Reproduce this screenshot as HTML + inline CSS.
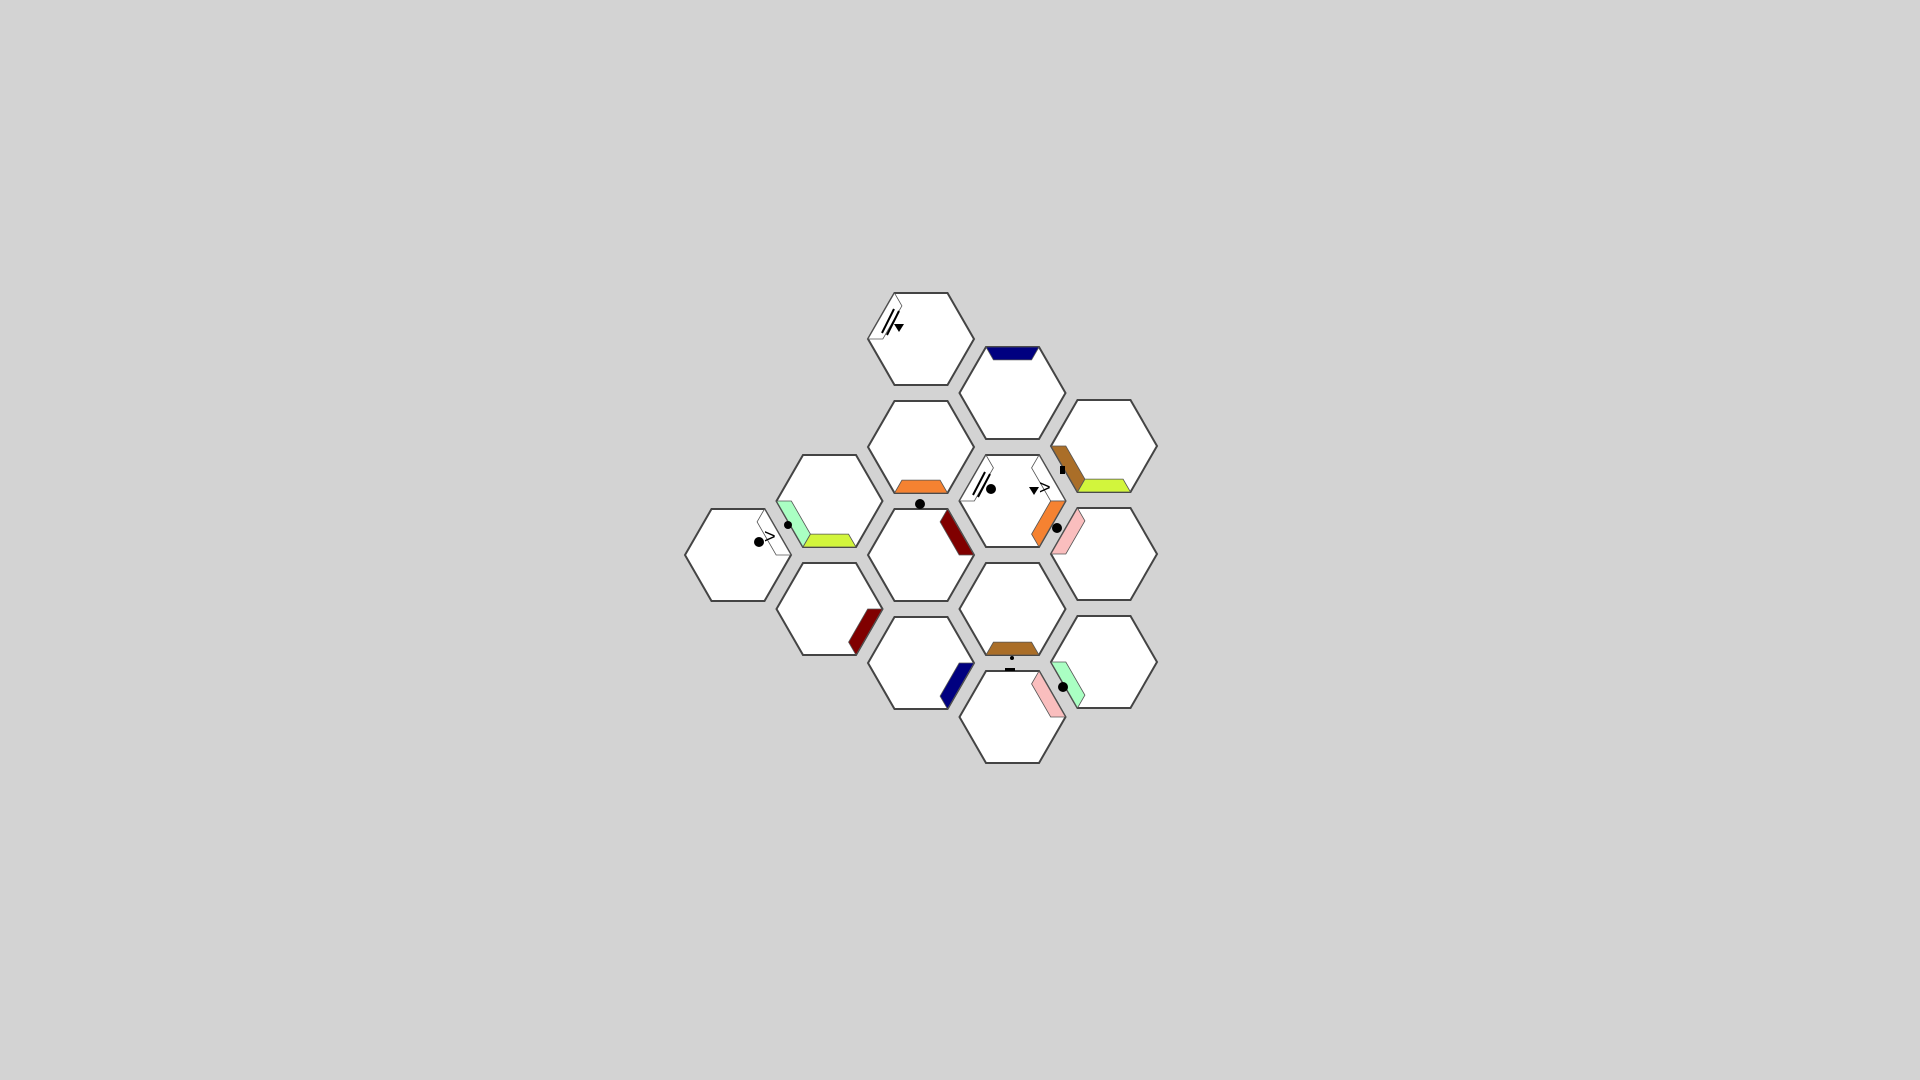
<!DOCTYPE html>
<html><head><meta charset="utf-8"><style>
html,body{margin:0;padding:0;background:#d3d3d3;width:1920px;height:1080px;overflow:hidden}
svg{display:block}
</style></head><body>
<svg id="board" width="1920" height="1080" viewBox="0 0 1920 1080" xmlns="http://www.w3.org/2000/svg" font-family="Liberation Sans, sans-serif"></svg>
<script>
// tile grid data: column index, row index
const tileCols = [2,2,2,2, 3,3,3,3, 4,4,4, 1,1, 0];
const tileRows = [0,1,2,3, 0,1,2,3, 0,1,2, 0,1, 0];
// edge decorations: tile index, edge name, color
const decoTiles  = [0,4,1,5,5,5,8,8,11,11,13,2,9,6,3,12,10,7];
const decoEdges  = ['upperleft','top','bottom','upperleft','upperright','lowerright','lowerleft','bottom','lowerleft','bottom','upperright','upperright','upperleft','bottom','lowerright','lowerright','lowerleft','upperright'];
const decoColors = ['#ffffff','#000080','#f58231','#ffffff','#ffffff','#f58231','#aa6e28','#d2f53c','#aaffc3','#d2f53c','#ffffff','#800000','#fabebe','#aa6e28','#000080','#800000','#aaffc3','#fabebe'];

const svg = document.getElementById('board');
const NS = 'http://www.w3.org/2000/svg';
const R = 53, H = 46, X0 = 738, COLSTEP = 91.5, ROWSTEP = 108;
function cx(c){ return X0 + c*COLSTEP; }
function cy(c,r){
  const base = {0:555,1:501,2:339,3:393,4:446}[c];
  return base + r*ROWSTEP;
}
function verts(x,y){
  return [[x+R,y],[x+R/2,y+H],[x-R/2,y+H],[x-R,y],[x-R/2,y-H],[x+R/2,y-H]];
}
const edgeIdx = {lowerright:[0,1],bottom:[1,2],lowerleft:[2,3],upperleft:[3,4],top:[4,5],upperright:[5,0]};
const centers = [];
for (let i=0;i<tileCols.length;i++){
  const x = cx(tileCols[i]), y = cy(tileCols[i], tileRows[i]);
  centers.push([x,y]);
  const p = document.createElementNS(NS,'polygon');
  p.setAttribute('points', verts(x,y).map(v=>v.join(',')).join(' '));
  p.setAttribute('fill','#fff'); p.setAttribute('stroke','#444'); p.setAttribute('stroke-width','2');
  
  
  svg.appendChild(p);
}
const s = 0.72;
for (let k=0;k<decoTiles.length;k++){
  const [x,y] = centers[decoTiles[k]];
  const v = verts(x,y);
  const [a,b] = edgeIdx[decoEdges[k]];
  const A=v[a], B=v[b];
  const Bi=[x+(B[0]-x)*s, y+(B[1]-y)*s], Ai=[x+(A[0]-x)*s, y+(A[1]-y)*s];
  const p = document.createElementNS(NS,'polygon');
  p.setAttribute('points',[A,B,Bi,Ai].map(q=>q.join(',')).join(' '));
  p.setAttribute('fill',decoColors[k]); p.setAttribute('stroke','#555'); p.setAttribute('stroke-width','0.8');
  
  
  svg.appendChild(p);
}
</script>
<svg style="position:absolute;left:0;top:0" width="1920" height="1080">
  <g stroke="#000" stroke-width="2"><line x1="882" y1="333" x2="894" y2="309"/><line x1="887" y1="335" x2="899" y2="311"/></g>
  <polygon points="894,324 904,324 899,332" fill="#000"/>
  <g stroke="#000" stroke-width="2"><line x1="973" y1="495" x2="985" y2="472"/><line x1="978" y1="497" x2="990" y2="474"/></g>
  <circle cx="991" cy="489" r="5" fill="#000"/>
  <polygon points="1029,487 1039,487 1034,495" fill="#000"/>
  <text x="1039" y="494" font-size="20" font-family="Liberation Sans, sans-serif">&gt;</text>
  <circle cx="920" cy="504" r="5" fill="#000"/>
  <circle cx="1057" cy="528" r="5" fill="#000"/>
  <circle cx="759" cy="542" r="5" fill="#000"/>
  <text x="764" y="543" font-size="20" font-family="Liberation Sans, sans-serif">&gt;</text>
  <circle cx="788" cy="525" r="4" fill="#000"/>
  <circle cx="1063" cy="687" r="5" fill="#000"/>
  <rect x="1005" y="668" width="10" height="3" fill="#000"/>
  <circle cx="1012" cy="658" r="2" fill="#000"/>
  <rect x="1060" y="466" width="5" height="8" fill="#000"/>
</svg>
</body></html>
